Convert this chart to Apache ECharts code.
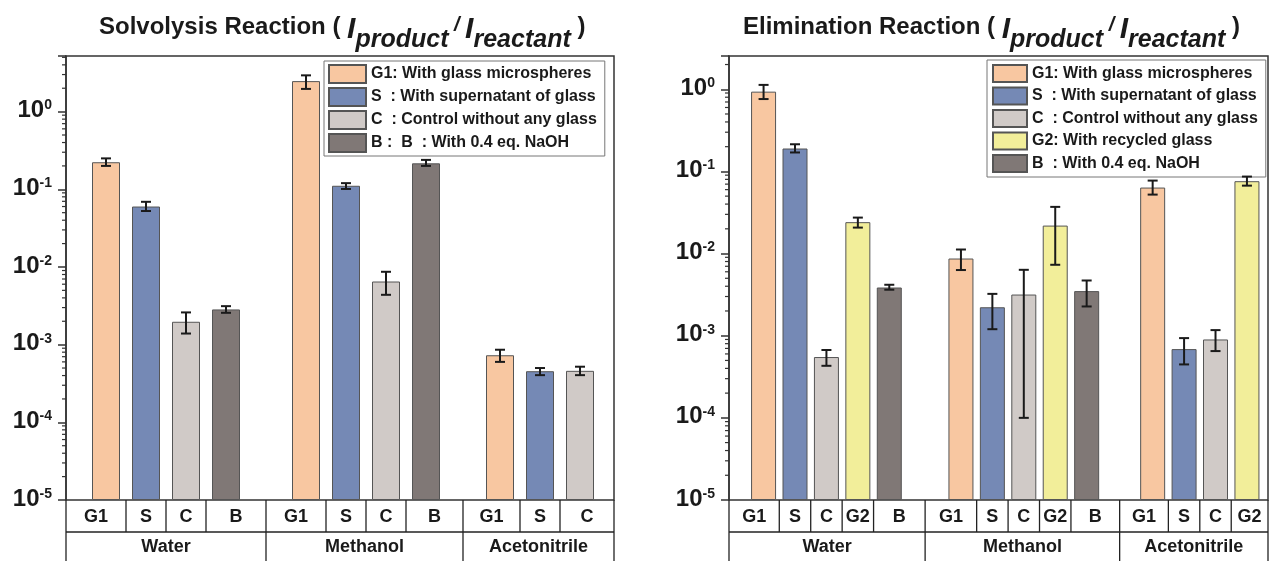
<!DOCTYPE html>
<html>
<head>
<meta charset="utf-8">
<script src="https://cdn.jsdelivr.net/npm/echarts@6/dist/echarts.min.js"></script>
<style>html,body{margin:0;padding:0;background:#fff;}#c{width:1271px;height:561px;}</style>
</head>
<body>
<div id="c"></div>
<script>
// ---------------- DATA ----------------
const groups = ['Water', 'Methanol', 'Acetonitrile'];

const solvCats = [['G1', 'S', 'C', 'B'], ['G1', 'S', 'C', 'B'], ['G1', 'S', 'C']];
const solvValues = [[0.223, 0.060, 0.00197, 0.00284], [2.47, 0.111, 0.0065, 0.216], [7.3e-4, 4.55e-4, 4.6e-4]];
const solvErrLow = [[0.20, 0.0525, 0.00139, 0.00257], [1.96, 0.101, 0.00438, 0.20], [6.0e-4, 4.05e-4, 4.05e-4]];
const solvErrHigh = [[0.25, 0.069, 0.0026, 0.00313], [2.93, 0.120, 0.00867, 0.239], [8.6e-4, 5.0e-4, 5.2e-4]];

const elimCats = [['G1', 'S', 'C', 'G2', 'B'], ['G1', 'S', 'C', 'G2', 'B'], ['G1', 'S', 'C', 'G2']];
const elimValues = [[0.935, 0.19, 5.5e-4, 0.0241, 0.00386], [0.0087, 0.00222, 0.00317, 0.0219, 0.00349], [0.0636, 6.87e-4, 9.0e-4, 0.076]];
const elimErrLow = [[0.76, 0.17, 4.3e-4, 0.0207, 0.00363], [0.0063, 0.0012, 1.0e-4, 0.0073, 0.00227], [0.0522, 4.47e-4, 6.5e-4, 0.0671]];
const elimErrHigh = [[1.13, 0.214, 6.7e-4, 0.0274, 0.00417], [0.0112, 0.00323, 0.00634, 0.037, 0.0047], [0.0773, 9.35e-4, 1.17e-3, 0.0865]];

const solvLegend = {
  G1: 'G1: With glass microspheres',
  S: 'S  : With supernatant of glass',
  C: 'C  : Control without any glass',
  B: 'B :  B  : With 0.4 eq. NaOH'
};
const elimLegend = {
  G1: 'G1: With glass microspheres',
  S: 'S  : With supernatant of glass',
  C: 'C  : Control without any glass',
  G2: 'G2: With recycled glass',
  B: 'B  : With 0.4 eq. NaOH'
};
const yTickExponents = [-5, -4, -3, -2, -1, 0];

// ---------------- STYLE / LAYOUT ----------------
const FONT = '"Liberation Sans", Arial, Helvetica, sans-serif';
const COLORS = { G1: '#F8C7A1', S: '#7589B5', C: '#D0CAC7', G2: '#F2EE9A', B: '#807876' };
const INK = '#1a1a1a';
const panels = [
  { cats: solvCats, values: solvValues, lo: solvErrLow, hi: solvErrHigh, legend: solvLegend,
    starts: [0, 5, 9.85], xMin: -1, xMax: 12.7, yMax: 5.2, barWidth: 28,
    grid: { left: 66, top: 56, width: 548, height: 444 } },
  { cats: elimCats, values: elimValues, lo: elimErrLow, hi: elimErrHigh, legend: elimLegend,
    starts: [0, 6.28, 12.38], xMin: -1.1, xMax: 16.05, yMax: 2.54, barWidth: 25,
    grid: { left: 729, top: 56, width: 539, height: 444 } }
];

const chart = echarts.init(document.getElementById('c'), null, { renderer: 'canvas' });

const grids = [], xAxes = [], yAxes = [], series = [];
panels.forEach((p, pi) => {
  grids.push(Object.assign({ show: true, borderColor: '#333', borderWidth: 1.5, backgroundColor: 'transparent' }, p.grid));
  xAxes.push({ type: 'value', gridIndex: pi, min: p.xMin, max: p.xMax, show: false,
    axisLine: { show: false, onZero: false }, axisTick: { show: false }, splitLine: { show: false }, axisLabel: { show: false } });
  yAxes.push({
    type: 'log', logBase: 10, gridIndex: pi, min: 1e-5, max: p.yMax, startValue: 1e-5,
    splitLine: { show: false },
    axisLine: { show: true, onZero: false, lineStyle: { color: '#333', width: 1.5 } },
    axisTick: { show: true, inside: false, length: 8, lineStyle: { color: '#333', width: 1.5 } },
    axisLabel: {
      margin: 14,
      formatter: function (v) {
        const e = Math.round(Math.log10(v));
        if (Math.abs(Math.log10(v) - e) > 1e-6 || yTickExponents.indexOf(e) < 0) return '';
        return '{b|10}{s|' + e + '}';
      },
      rich: {
        b: { fontFamily: FONT, fontWeight: 'bold', fontSize: 24, color: INK, lineHeight: 26, verticalAlign: 'top' },
        s: { fontFamily: FONT, fontWeight: 'bold', fontSize: 14, color: INK, lineHeight: 14, verticalAlign: 'top' }
      }
    }
  });
  const keys = Object.keys(p.legend);
  keys.forEach(k => {
    const data = [];
    p.cats.forEach((cg, g) => cg.forEach((c, i) => { if (c === k) data.push([p.starts[g] + i, p.values[g][i]]); }));
    series.push({
      type: 'bar', name: p.legend[k], xAxisIndex: pi, yAxisIndex: pi, data: data,
      barWidth: p.barWidth, barGap: '-100%',
      itemStyle: { color: COLORS[k], borderColor: '#555', borderWidth: 1 },
      emphasis: { disabled: true }, animation: false
    });
  });
  // error bars
  const errData = [];
  p.cats.forEach((cg, g) => cg.forEach((c, i) => errData.push([p.starts[g] + i, p.lo[g][i], p.hi[g][i]])));
  series.push({
    type: 'custom', xAxisIndex: pi, yAxisIndex: pi, data: errData, z: 10, animation: false, silent: true,
    encode: { x: 0, y: [1, 2] },
    renderItem: function (params, api) {
      const x = api.value(0);
      const a = api.coord([x, api.value(1)]);
      const b = api.coord([x, api.value(2)]);
      const cw = 5;
      const st = { stroke: '#1a1a1a', lineWidth: 2 };
      return { type: 'group', children: [
        { type: 'line', shape: { x1: a[0], y1: a[1], x2: b[0], y2: b[1] }, style: st },
        { type: 'line', shape: { x1: a[0] - cw, y1: a[1], x2: a[0] + cw, y2: a[1] }, style: st },
        { type: 'line', shape: { x1: b[0] - cw, y1: b[1], x2: b[0] + cw, y2: b[1] }, style: st }
      ] };
    }
  });
  // minor log ticks
  const minor = [];
  for (let e = -5; e <= 0; e++) for (let k = 2; k <= 9; k++) { const v = k * Math.pow(10, e); if (v <= p.yMax) minor.push([p.xMin, v]); }
  series.push({
    type: 'custom', xAxisIndex: pi, yAxisIndex: pi, data: minor, silent: true, animation: false, clip: false,
    encode: { x: 0, y: 1 },
    renderItem: function (params, api) {
      const c = api.coord([api.value(0), api.value(1)]);
      return { type: 'line', shape: { x1: c[0] - 4, y1: c[1], x2: c[0], y2: c[1] }, style: { stroke: '#333', lineWidth: 1.2 } };
    }
  });
});

const titleRich = {
  n: { fontFamily: FONT, fontWeight: 'bold', fontSize: 24, color: INK, lineHeight: 32, verticalAlign: 'top' },
  i: { fontFamily: FONT, fontWeight: 'bold', fontStyle: 'italic', fontSize: 30, color: INK, lineHeight: 32, verticalAlign: 'top' },
  sub: { fontFamily: FONT, fontWeight: 'bold', fontStyle: 'italic', fontSize: 25, color: INK, lineHeight: 26, padding: [13, 0, 0, 0], verticalAlign: 'top' },
  sl: { fontFamily: FONT, fontWeight: 'bold', fontStyle: 'italic', fontSize: 20, color: INK, lineHeight: 28, verticalAlign: 'top' }
};
function titleText(name) {
  return '{n|' + name + ' ( }{i|I}{sub|product}{sl| / }{i|I}{sub|reactant}{n| )}';
}

const legendBase = {
  orient: 'vertical', backgroundColor: '#fff', borderColor: '#777', borderWidth: 1,
  icon: 'rect', selectedMode: false,
  textStyle: { fontFamily: FONT, fontWeight: 'bold', fontSize: 16, color: INK }
};

chart.setOption({
  animation: false,
  title: [
    { text: titleText('Solvolysis Reaction'), left: 94, top: 10, textStyle: { rich: titleRich } },
    { text: titleText('Elimination Reaction'), left: 738, top: 10, textStyle: { rich: titleRich } }
  ],
  legend: [
    Object.assign({}, legendBase, { data: Object.values(solvLegend), left: 324, top: 61, itemWidth: 37, itemHeight: 18, itemGap: 3, padding: [3, 8, 3, 4] }),
    Object.assign({}, legendBase, { data: Object.values(elimLegend), left: 987, top: 60, itemWidth: 34, itemHeight: 17, itemGap: 3.5, padding: [4, 8, 4, 5] })
  ],
  grid: grids, xAxis: xAxes, yAxis: yAxes, series: series
});

// ---------------- category table below each panel ----------------
const graphics = [];
const rowTop = 500, rowMid = 532, rowBot = 561;
const lineSt = { stroke: '#222', lineWidth: 1.3 };
const cellFont = { fontFamily: FONT, fontWeight: 'bold', fontSize: 18, fill: INK };
panels.forEach((p, pi) => {
  const px = v => chart.convertToPixel({ xAxisIndex: pi }, v);
  const left = p.grid.left, right = p.grid.left + p.grid.width;
  const groupBounds = [left];
  for (let g = 0; g < p.cats.length - 1; g++) {
    const lastX = p.starts[g] + p.cats[g].length - 1;
    groupBounds.push(px((lastX + p.starts[g + 1]) / 2));
  }
  groupBounds.push(right);
  graphics.push({ type: 'line', shape: { x1: left, y1: rowMid, x2: right, y2: rowMid }, style: lineSt });
  groupBounds.forEach(b => graphics.push({ type: 'line', shape: { x1: b, y1: rowTop, x2: b, y2: rowBot }, style: lineSt }));
  p.cats.forEach((cg, g) => {
    const bounds = [groupBounds[g]];
    for (let i = 0; i < cg.length - 1; i++) bounds.push(px(p.starts[g] + i + 0.5));
    bounds.push(groupBounds[g + 1]);
    for (let i = 1; i < bounds.length - 1; i++) graphics.push({ type: 'line', shape: { x1: bounds[i], y1: rowTop, x2: bounds[i], y2: rowMid }, style: lineSt });
    cg.forEach((c, i) => graphics.push({ type: 'text', x: (bounds[i] + bounds[i + 1]) / 2, y: (rowTop + rowMid) / 2 + 1,
      style: Object.assign({ text: c, align: 'center', verticalAlign: 'middle' }, cellFont) }));
    graphics.push({ type: 'text', x: (groupBounds[g] + groupBounds[g + 1]) / 2, y: (rowMid + rowBot) / 2 + 1,
      style: Object.assign({ text: groups[g], align: 'center', verticalAlign: 'middle' }, cellFont) });
  });
});
chart.setOption({ graphic: graphics });
</script>
</body>
</html>
